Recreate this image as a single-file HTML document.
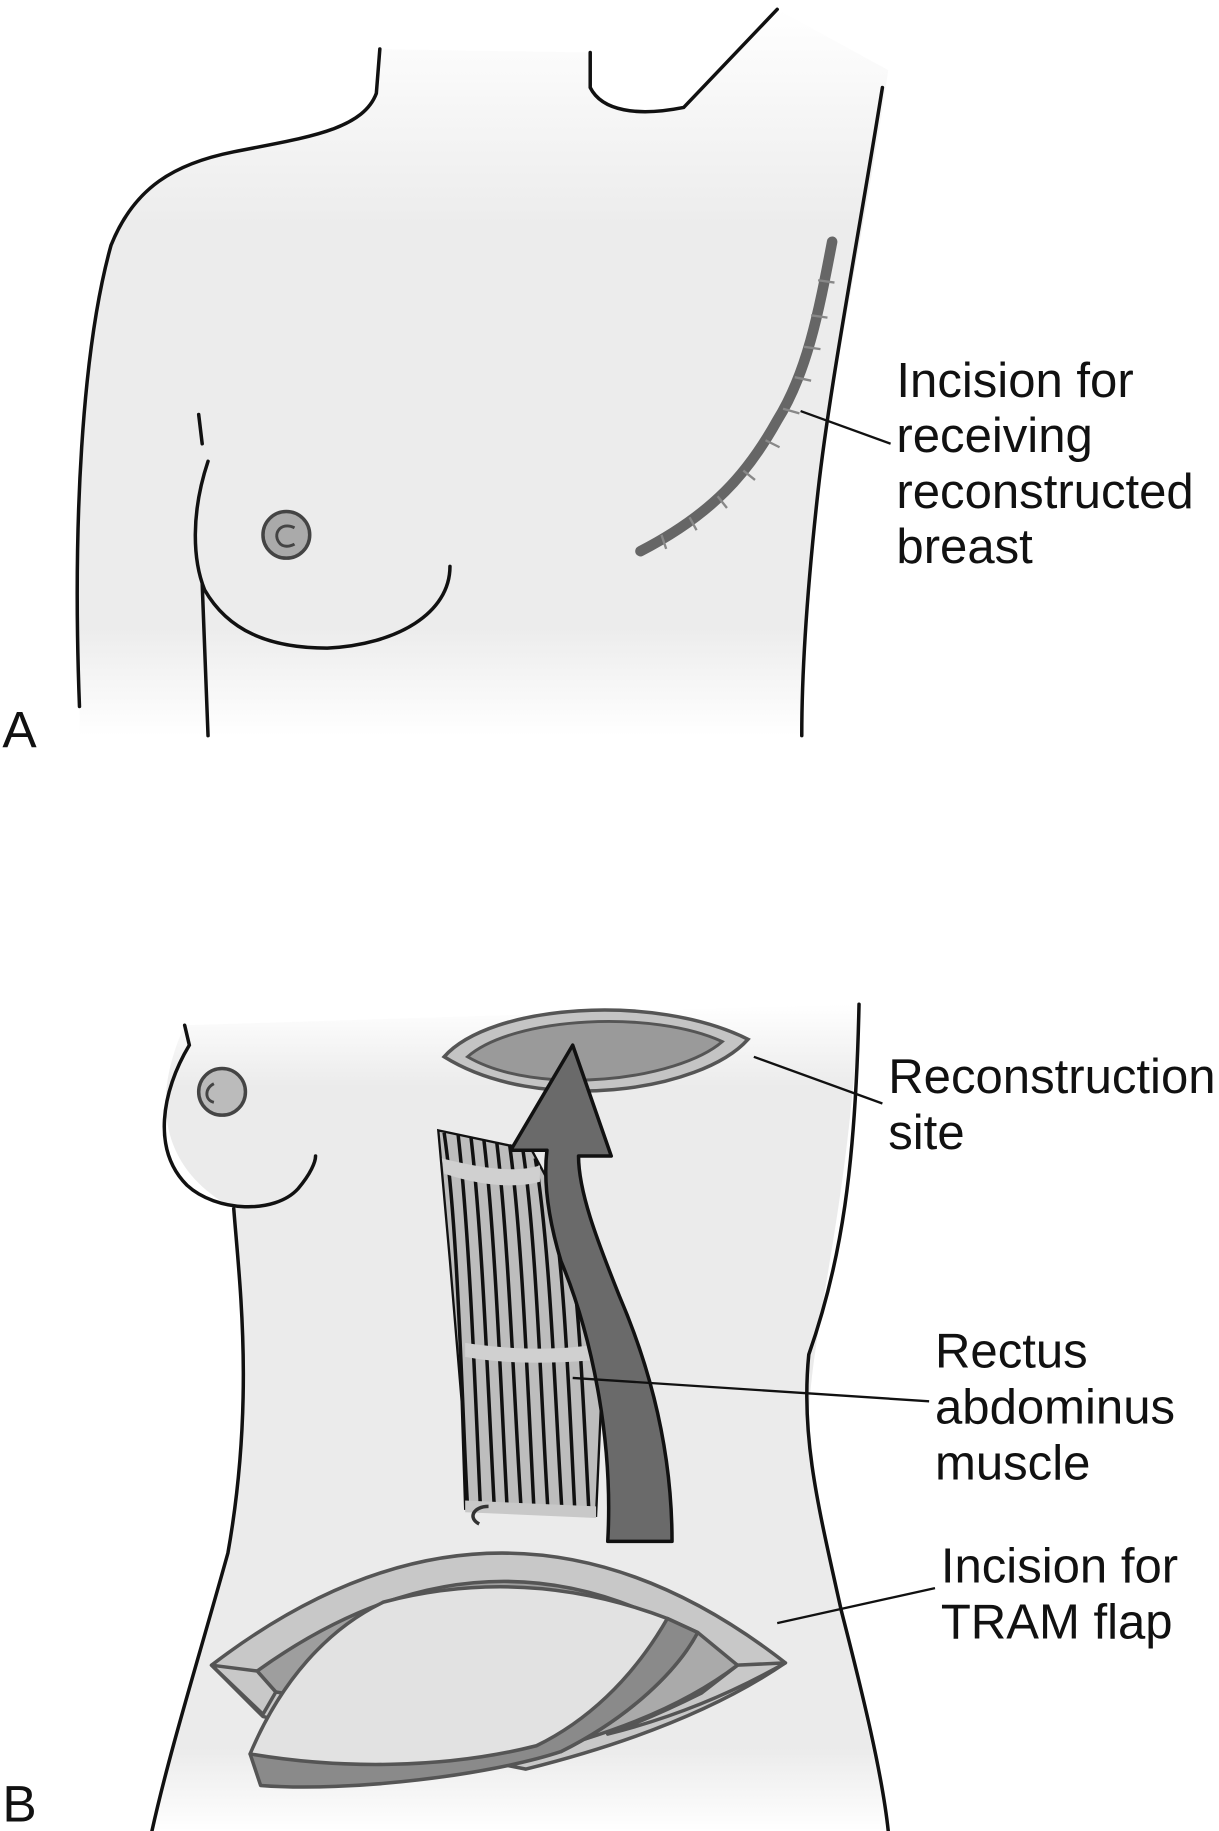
<!DOCTYPE html>
<html><head><meta charset="utf-8"><style>
html,body{margin:0;padding:0;background:#fff}
svg{display:block}
text{font-family:"Liberation Sans",sans-serif;fill:#111}
</style></head><body>
<svg width="1219" height="1831" viewBox="0 0 1043 1568" preserveAspectRatio="none" xmlns="http://www.w3.org/2000/svg">
<defs>
<linearGradient id="g1" x1="0" y1="0" x2="0" y2="1">
<stop offset="0" stop-color="#fff"/><stop offset="0.3" stop-color="#ececec"/><stop offset="0.85" stop-color="#ececec"/><stop offset="1" stop-color="#fff"/></linearGradient>
<linearGradient id="g2" x1="0" y1="0" x2="0" y2="1">
<stop offset="0" stop-color="#fff"/><stop offset="0.1" stop-color="#ebebeb"/><stop offset="0.9" stop-color="#ebebeb"/><stop offset="1" stop-color="#fff"/></linearGradient>
</defs>
<!-- Panel A -->
<path d="M68,630 L68,600 C62,450 70,300 95,210 C115,160 150,140 200,130 C260,118 310,112 322,80 L325,42 L505,45 L505,75 C515,95 545,100 585,92 L665,8 L760,60 C740,200 705,350 695,470 C688,550 686,600 685,630 Z" fill="url(#g1)"/>
<g fill="none" stroke="#111" stroke-width="3" stroke-linecap="round">
<path d="M325,42 L322,80 C310,112 260,118 200,130 C150,140 115,160 95,210 C70,300 62,450 68,605"/>
<path d="M505,45 L505,75 C515,95 545,100 585,92 L665,8"/>
<path d="M755,75 C735,200 710,330 700,420 C690,510 686,580 686,630"/>
<path d="M170,355 L173,380"/>
<path d="M178,395 C163,440 165,480 175,505 C195,540 230,555 280,555 C340,552 385,525 385,485"/>
<path d="M173,500 L178,630"/>
</g>
<circle cx="245" cy="458" r="20" fill="#aaa" stroke="#444" stroke-width="3"/>
<path d="M252,452 C240,446 232,458 240,466 C245,470 252,466 252,466" fill="none" stroke="#444" stroke-width="2.5"/>
<path d="M712,207 C700,270 690,320 665,360 C640,405 610,440 548,472" fill="none" stroke="#666" stroke-width="9" stroke-linecap="round"/>
<g stroke="#888" stroke-width="2">
<path d="M700,240 l14,2 M694,270 l14,2 M688,297 l14,2 M680,323 l14,3 M670,350 l14,4 M655,377 l12,6 M636,403 l10,8 M614,425 l8,10 M590,443 l6,11 M566,458 l4,12"/>
</g>
<path d="M685,352 L762,380" stroke="#111" stroke-width="2"/>
<g font-size="42"><text x="767" y="340">Incision for</text><text x="767" y="387">receiving</text><text x="767" y="435">reconstructed</text><text x="767" y="482">breast</text></g>
<text x="2" y="640" font-size="44">A</text>
<!-- Panel B -->
<path d="M158,878 C130,940 135,1000 200,1035 C205,1100 218,1200 195,1330 C170,1420 145,1500 130,1568 L760,1568 C740,1450 700,1320 692,1230 C690,1150 725,1050 735,860 Z" fill="url(#g2)"/>
<g fill="none" stroke="#111" stroke-width="3" stroke-linecap="round">
<path d="M158,878 L162,895 C138,935 130,985 160,1015 C185,1038 235,1040 255,1018 C266,1005 270,995 270,990"/>
<path d="M200,1035 C205,1100 218,1200 195,1330 C170,1420 145,1500 130,1568"/>
<path d="M735,860 C732,1000 720,1080 692,1160 C685,1230 700,1290 720,1380 C738,1450 755,1520 760,1568"/>
</g>
<circle cx="190" cy="935" r="20" fill="#bbb" stroke="#444" stroke-width="3"/>
<path d="M183,928 C175,932 175,942 183,944" fill="none" stroke="#444" stroke-width="2.5"/>
<!-- top ellipse -->
<path d="M380,905 C420,860 560,850 640,890 C600,935 460,955 380,905 Z" fill="#c4c4c4" stroke="#555" stroke-width="3"/>
<path d="M400,905 C440,870 560,865 618,892 C580,925 460,940 400,905 Z" fill="#9a9a9a" stroke="#555" stroke-width="2.5"/>
<!-- muscle -->
<path d="M375,968 L455,985 L495,1060 L515,1185 L510,1298 L398,1292 L395,1200 L385,1080 Z" fill="#bdbdbd" stroke="#111" stroke-width="2"/>
<g stroke="#111" stroke-width="3" fill="none">
<path d="M380,970 C392,1050 395,1200 400,1290 M392,972 C402,1060 407,1200 411,1290 M403,974 C413,1060 418,1200 423,1292 M414,976 C424,1060 429,1200 434,1293 M425,978 C435,1060 440,1200 446,1294 M436,980 C447,1060 452,1200 457,1295 M447,982 C459,1060 463,1200 469,1296 M458,992 C471,1070 475,1200 481,1297 M470,1012 C483,1080 487,1200 492,1297 M482,1032 C495,1090 499,1200 504,1297"/>
</g>
<path d="M378,992 C410,1000 440,1005 462,998 L462,1012 C440,1018 410,1015 380,1005 Z" fill="#d0d0d0"/>
<path d="M398,1150 C430,1155 470,1157 505,1152 L505,1165 C470,1168 430,1168 398,1162 Z" fill="#d0d0d0"/>
<path d="M398,1285 L510,1290 L510,1300 L398,1295 Z" fill="#c8c8c8"/>
<path d="M418,1290 C405,1290 400,1300 410,1305" fill="none" stroke="#333" stroke-width="3"/>
<!-- arrow -->
<path d="M520,1320 C525,1230 505,1140 480,1080 C468,1040 465,1010 468,985 L437,985 L490,895 L523,990 L495,990 C495,1020 510,1060 530,1110 C560,1180 575,1250 575,1320 Z" fill="#6a6a6a" stroke="#111" stroke-width="3" stroke-linejoin="round"/>
<!-- bottom flap -->
<g stroke="#555" stroke-width="3" stroke-linejoin="round">
<path d="M181,1426 Q430,1235 672,1424 Q590,1480 450,1515 L225,1470 Z" fill="#c8c8c8"/>
<path d="M220,1431 Q430,1280 631,1426 Q560,1470 498,1490 L236,1449 Z" fill="#9e9e9e"/>
<path d="M181,1426 L220,1431 L236,1449 L225,1468 Z" fill="#c8c8c8"/>
<path d="M672,1424 L631,1426 L600,1450 Q560,1470 520,1485 Q600,1465 672,1424 Z" fill="#c8c8c8"/>
<path d="M571,1386 L597,1398 L631,1426 Q580,1465 498,1490 L480,1500 C540,1470 580,1430 597,1398" fill="#aaa"/>
<path d="M214,1502 L223,1529 C300,1535 420,1520 480,1500 C540,1470 580,1430 597,1398 L571,1386 Z" fill="#8a8a8a"/>
<path d="M214,1502 C240,1440 280,1395 328,1372 Q450,1340 571,1386 C540,1440 500,1475 459,1495 C380,1515 290,1515 214,1502 Z" fill="#e2e2e2"/>
</g>
<!-- leaders -->
<g stroke="#111" stroke-width="2"><path d="M645,905 L755,945"/><path d="M490,1180 L795,1200"/><path d="M665,1390 L800,1360"/></g>
<g font-size="42">
<text x="760" y="936">Reconstruction</text><text x="760" y="984">site</text>
<text x="800" y="1171">Rectus</text><text x="800" y="1219">abdominus</text><text x="800" y="1267">muscle</text>
<text x="805" y="1355">Incision for</text><text x="805" y="1403">TRAM flap</text>
</g>
<text x="2" y="1560" font-size="44">B</text>
</svg>
</body></html>
